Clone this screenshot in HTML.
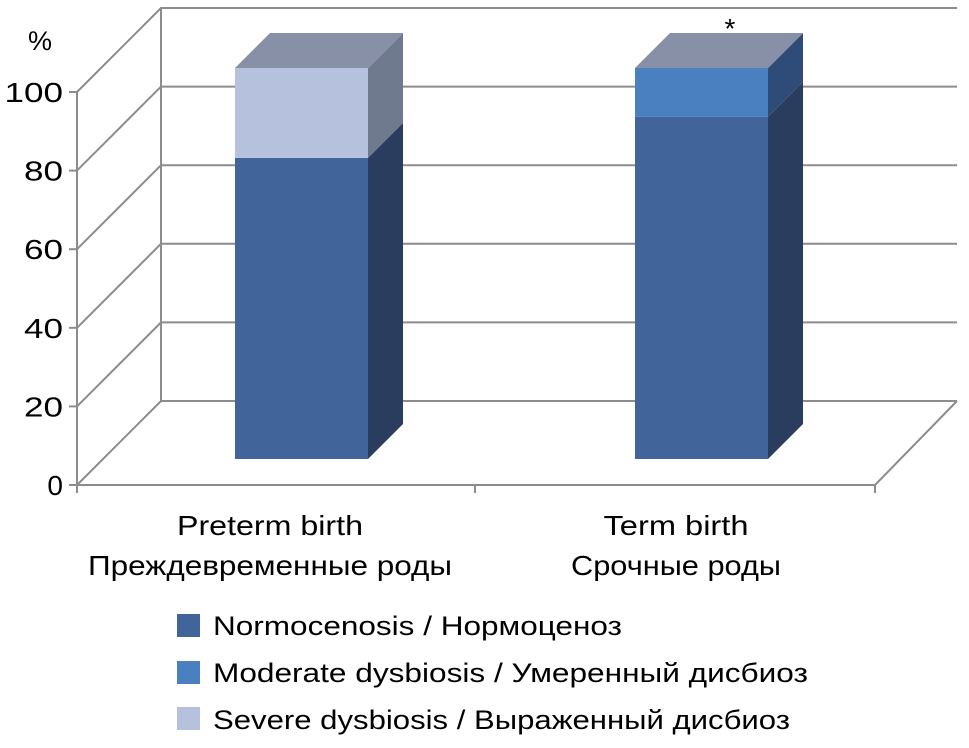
<!DOCTYPE html>
<html><head><meta charset="utf-8"><style>
body{margin:0;background:#fff;}
svg text{font-family:"Liberation Sans","DejaVu Sans",sans-serif;fill:#000;}
</style></head><body>
<svg id="chart" width="969" height="743" viewBox="0 0 969 743" xmlns="http://www.w3.org/2000/svg">
<g id="grid"></g>
<g id="bars"></g>
<g id="axis"></g>
<text x="730" y="38" font-size="28" text-anchor="middle">*</text>
<g font-size="27">
<rect x="177" y="614" width="23" height="23" fill="#41659b"/>
<text x="213" y="635" textLength="409" lengthAdjust="spacingAndGlyphs">Normocenosis / Нормоценоз</text>
<rect x="177" y="661" width="23" height="23" fill="#4a7fc0"/>
<text x="213" y="682" textLength="595" lengthAdjust="spacingAndGlyphs">Moderate dysbiosis / Умеренный дисбиоз</text>
<rect x="177" y="707" width="23" height="23" fill="#b6c2dd"/>
<text x="213" y="729" textLength="577" lengthAdjust="spacingAndGlyphs">Severe dysbiosis / Выраженный дисбиоз</text>
</g>
</svg>
<script>
const categories=["Preterm birth|Преждевременные роды","Term birth|Срочные роды"];
const normocenosis=[77,87.5];
const moderate=[0,12.5];
const severe=[23,0];
const yTicks=[0,20,40,60,80,100];
const NS="http://www.w3.org/2000/svg";
const X0=77,Y0=485,DX=84,DY=-84,PX=3.93,BPX=3.91;
const BASE=459,DEP=35;
const barX=[235,635],barW=133;
const labelCx=[270,676];
const labelW=[[186,364],[145,210]];
function yF(v){return Y0-v*PX;}
function yB(v){return BASE-v*BPX;}
function mk(tag,attrs,parent){const e=document.createElementNS(NS,tag);for(const k in attrs)e.setAttribute(k,attrs[k]);parent.appendChild(e);return e;}
const grid=document.getElementById('grid'),axis=document.getElementById('axis'),bars=document.getElementById('bars');
const gc="#8c8c8c";
yTicks.forEach(v=>{
  const y=yF(v);
  const l=mk('polyline',{points:`${X0},${y} ${X0+DX},${y+DY} 957,${y+DY}`,fill:'none',stroke:gc,'stroke-width':2},grid);
  
  
  const t=mk('line',{x1:X0-8,y1:y,x2:X0,y2:y,stroke:gc,'stroke-width':2},axis);
  
  
  const tx=mk('text',{x:X0-14,y:y+10,'font-size':28,'text-anchor':'end'},axis);
  tx.textContent=v;
  if(String(v).length>1){tx.setAttribute('textLength',String(v).length*19.5);tx.setAttribute('lengthAdjust','spacingAndGlyphs');}
  
  
});
const back=mk('line',{x1:X0+DX,y1:yF(0)+DY,x2:X0+DX,y2:yF(100)+DY,stroke:gc,'stroke-width':2},grid);


const floor=mk('polyline',{points:`${X0},${Y0} 875,${Y0} 957,${Y0+DY}`,fill:'none',stroke:gc,'stroke-width':2},axis);


const yax=mk('line',{x1:X0,y1:Y0+8,x2:X0,y2:yF(100),stroke:gc,'stroke-width':2},axis);


[X0,475,875].forEach((x,i)=>{const t=mk('line',{x1:x,y1:Y0,x2:x,y2:Y0+8,stroke:gc,'stroke-width':2},axis);
  
  });
const pct=mk('text',{x:40,y:50,'font-size':27,'text-anchor':'middle'},axis);
pct.textContent='%';


const series=[[normocenosis,"#41659b","#2b3d5e","normocenosis"],[moderate,"#4a7fc0","#2f4b78","moderate"],[severe,"#b6c2dd","#6f7a8f","severe"]];
categories.forEach((c,i)=>{
  const x=barX[i];let cum=0;
  series.forEach(s=>{
    const v=s[0][i];if(v<=0)return;
    const y1=yB(cum),y2=yB(cum+v);
    const f=mk('rect',{x:x,y:y2,width:barW,height:y1-y2,fill:s[1]},bars);
    
    
    const sd=mk('polygon',{points:`${x+barW},${y1} ${x+barW+DEP},${y1-DEP} ${x+barW+DEP},${y2-DEP} ${x+barW},${y2}`,fill:s[2]},bars);
    
    
    cum+=v;
  });
  const yt=yB(cum);
  const tp=mk('polygon',{points:`${x},${yt} ${x+DEP},${yt-DEP} ${x+barW+DEP},${yt-DEP} ${x+barW},${yt}`,fill:'#8890a8'},bars);
  
  
  const parts=c.split('|');
  parts.forEach((p,j)=>{
    const t=mk('text',{x:labelCx[i]-labelW[i][j]/2,y:535+j*40,'font-size':28,textLength:labelW[i][j],lengthAdjust:'spacingAndGlyphs'},axis);
    t.textContent=p;
    
    
  });
});
</script>
</body></html>
